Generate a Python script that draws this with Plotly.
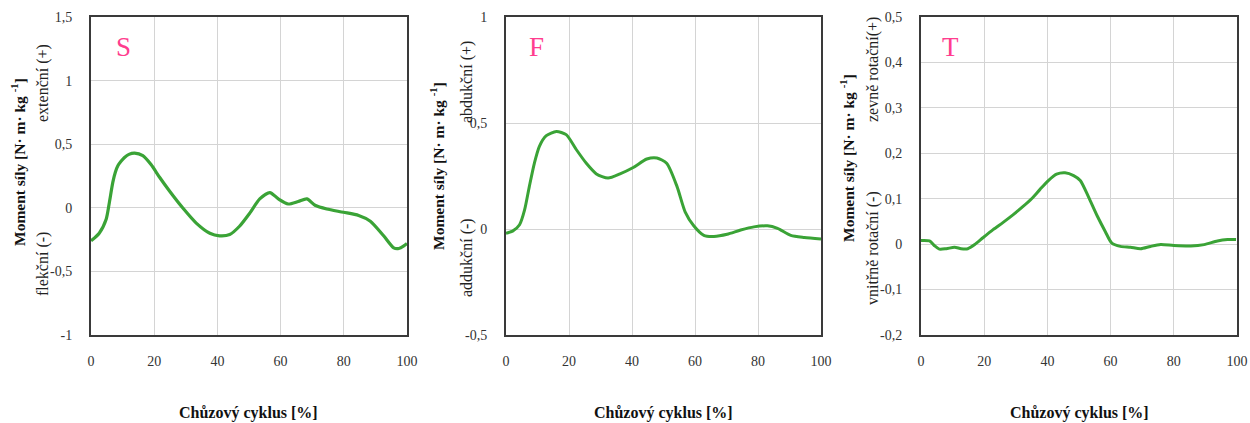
import plotly.graph_objects as go

W, H = 1250, 423

# ---- data ----
s_x = [0, 2.6, 4.8, 5.8, 6.9, 7.7, 8.5, 9.5, 10.6, 12, 13.8, 16.4, 19, 21.7, 24.9, 29, 33.3, 37.6, 40.7, 43.9,
       47, 50.3, 53.4, 56.6, 59.3, 62.4, 65.6, 68.3, 70.9, 74.6, 79.9, 84.7, 88.4, 92.6, 95.8, 97.4, 99, 100]
s_y = [-0.26, -0.2, -0.09, 0.04, 0.2, 0.28, 0.33, 0.365, 0.395, 0.42, 0.43, 0.41, 0.34, 0.24, 0.13, 0.0, -0.12,
       -0.2, -0.22, -0.21, -0.145, -0.04, 0.07, 0.12, 0.07, 0.03, 0.05, 0.07, 0.02, -0.01, -0.035, -0.06, -0.105,
       -0.22, -0.315, -0.32, -0.3, -0.28]

f_x = [0, 2.1, 4.3, 5.9, 7.4, 9, 10.6, 12.8, 16, 19.1, 22.3, 25.5, 28.7, 32.4, 36.2, 40.4, 44.7, 47.9, 51,
       54.3, 56.9, 59.6, 62.8, 66, 70.2, 74.5, 78.7, 83, 86.2, 90.4, 94.7, 100]
f_y = [-0.02, -0.01, 0.02, 0.09, 0.2, 0.31, 0.39, 0.44, 0.46, 0.445, 0.375, 0.31, 0.26, 0.24, 0.26, 0.29, 0.33,
       0.335, 0.31, 0.2, 0.08, 0.015, -0.03, -0.035, -0.025, -0.005, 0.01, 0.015, 0.003, -0.03, -0.04, -0.047]

t_x = [0, 2.7, 4.2, 5.8, 8, 10.6, 12.7, 14.8, 17, 19.6, 22.8, 26, 29.2, 32.3, 35, 37.6, 40.3, 42.9, 45.6, 48.3,
       50.4, 53, 55.7, 58.3, 60.4, 63.1, 66.3, 69.5, 72.6, 75.8, 80, 85.4, 89.6, 93.8, 97, 99.7]
t_y = [0.008, 0.007, -0.003, -0.011, -0.01, -0.007, -0.01, -0.01, -0.001, 0.014, 0.032, 0.048, 0.065, 0.083,
       0.1, 0.12, 0.14, 0.154, 0.157, 0.151, 0.14, 0.104, 0.063, 0.028, 0.002, -0.005, -0.007, -0.01, -0.005,
       -0.001, -0.003, -0.004, -0.001, 0.007, 0.01, 0.01]

x_ticks = [0, 20, 40, 60, 80, 100]
x_labels = ["0", "20", "40", "60", "80", "100"]
s_ticks = [-1, -0.5, 0, 0.5, 1, 1.5]
s_labels = ["-1", "-0,5", "0", "0,5", "1", "1,5"]
f_ticks = [-0.5, 0, 0.5, 1]
f_labels = ["-0,5", "0", "0,5", "1"]
t_ticks = [-0.2, -0.1, 0, 0.1, 0.2, 0.3, 0.4, 0.5]
t_labels = ["-0,2", "-0,1", "0", "0,1", "0,2", "0,3", "0,4", "0,5"]

panel_letters = ["S", "F", "T"]
pos_labels = ["extenční (+)", "abdukční (+)", "zevně rotační(+)"]
neg_labels = ["flekční (-)", "addukční (-)", "vnitřně rotační (-)"]
y_title = "<b>Moment síly [N· m· kg <sup>-1</sup>]</b>"
x_title = "<b>Chůzový cyklus [%]</b>"

# ---- layout geometry (pixels) ----
xdom_px = [(91, 407), (506, 821), (921, 1237)]
y_top, y_bot = 17, 335
ydom = [1 - y_bot / H, 1 - y_top / H]

GREEN = "#3aa336"
FRAME = "#3a3a3a"
GRID = "#d4d4d4"
FONT = "'Liberation Serif', 'Times New Roman', 'DejaVu Serif', serif"
TICKC = "#333333"

fig = go.Figure()
series = [(s_x, s_y), (f_x, f_y), (t_x, t_y)]
for i, (xs, ys) in enumerate(series):
    sfx = "" if i == 0 else str(i + 1)
    fig.add_trace(go.Scatter(x=xs, y=ys, mode="lines",
                             line=dict(color=GREEN, width=3.2 if i == 0 else 3, shape="spline", smoothing=0.7),
                             xaxis="x" + sfx, yaxis="y" + sfx, showlegend=False, hoverinfo="skip"))

yranges = [(-1, 1.5), (-0.5, 1), (-0.2, 0.5)]
yticks = [(s_ticks, s_labels), (f_ticks, f_labels), (t_ticks, t_labels)]
layout = dict(width=W, height=H, margin=dict(l=0, r=0, t=0, b=0), autosize=False,
              paper_bgcolor="white", plot_bgcolor="white", showlegend=False,
              font=dict(family=FONT, color=TICKC, size=14))
for i in range(3):
    sfx = "" if i == 0 else str(i + 1)
    x0, x1 = xdom_px[i]
    layout["xaxis" + sfx] = dict(domain=[x0 / W, x1 / W], range=[0, 100], anchor="y" + sfx,
                                 tickvals=x_ticks, ticktext=x_labels, showgrid=True, gridcolor=GRID, gridwidth=1,
                                 showline=True, linecolor=FRAME, linewidth=2, mirror=True, ticks="",
                                 zeroline=False, ticklabelstandoff=12, automargin=False,
                                 tickfont=dict(family=FONT, size=14, color=TICKC))
    layout["yaxis" + sfx] = dict(domain=ydom, range=list(yranges[i]), anchor="x" + sfx,
                                 tickvals=yticks[i][0], ticktext=yticks[i][1], showgrid=True, gridcolor=GRID,
                                 gridwidth=1, showline=True, linecolor=FRAME, linewidth=2, mirror=True, ticks="",
                                 zeroline=False, ticklabelstandoff=14, automargin=False,
                                 tickfont=dict(family=FONT, size=14, color=TICKC))
fig.update_layout(**layout)

# annotations (pixel positions)
bold_pos = [(18, 162), (437, 166), (847, 158)]
pos_pos = [(43, 83), (467, 82), (873, 70)]
neg_pos = [(43, 264), (467, 258), (873, 248)]
letter_pos = [(123, 47), (536, 47), (950, 47)]

def px(xp, yp):
    return xp / W, 1 - yp / H

for i in range(3):
    ax, ay = px(*bold_pos[i])
    fig.add_annotation(x=ax, y=ay, xref="paper", yref="paper", text=y_title, textangle=-90, showarrow=False,
                       xanchor="center", yanchor="middle", font=dict(family=FONT, size=15.5, color="#111111"))
    ax, ay = px(*pos_pos[i])
    fig.add_annotation(x=ax, y=ay, xref="paper", yref="paper", text=pos_labels[i], textangle=-90, showarrow=False,
                       xanchor="center", yanchor="middle", font=dict(family=FONT, size=16, color="#222222"))
    ax, ay = px(*neg_pos[i])
    fig.add_annotation(x=ax, y=ay, xref="paper", yref="paper", text=neg_labels[i], textangle=-90, showarrow=False,
                       xanchor="center", yanchor="middle", font=dict(family=FONT, size=16, color="#222222"))
    ax, ay = px(*letter_pos[i])
    fig.add_annotation(x=ax, y=ay, xref="paper", yref="paper", text=panel_letters[i], showarrow=False,
                       xanchor="center", yanchor="middle", font=dict(family=FONT, size=27, color="#ff3d8e"))
    cx = (xdom_px[i][0] + xdom_px[i][1]) / 2
    ax, ay = px(cx, 413)
    fig.add_annotation(x=ax, y=ay, xref="paper", yref="paper", text=x_title, showarrow=False,
                       xanchor="center", yanchor="middle", font=dict(family=FONT, size=16, color="#111111"))

fig.write_html("out.html")
